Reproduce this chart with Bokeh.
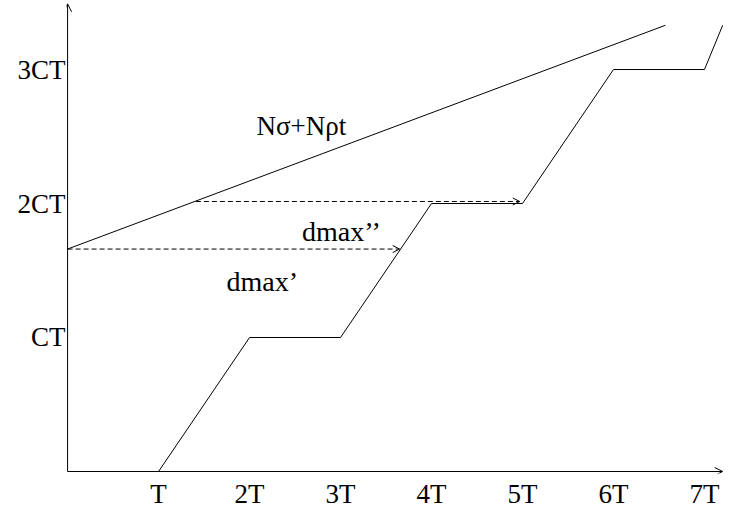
from bokeh.plotting import figure
from bokeh.models import Range1d, FixedTicker, Arrow, OpenHead
from bokeh.core.properties import value
from bokeh.embed import file_html
from bokeh.resources import INLINE

# --- data (in units of T on x, CT on y) ---
x_ticks = [1, 2, 3, 4, 5, 6, 7]
x_tick_labels = ["T", "2T", "3T", "4T", "5T", "6T", "7T"]
y_ticks = [1, 2, 3]
y_tick_labels = ["CT", "2CT", "3CT"]

stair_x = [1, 2, 3, 4, 5, 6, 7, 7.2]
stair_y = [0, 1, 1, 2, 2, 3, 3, 3.33]

env_x = [0, 6.57]
env_y = [1.66, 3.33]

dmax1_x = [0, 3.65]
dmax1_y = [1.66, 1.66]
dmax2_x = [1.41, 4.97]
dmax2_y = [2.015, 2.015]

axis_x = [0, 7.2]
axis_y = [0, 3.49]

label_text = ["Nσ+Nρt", "dmax’", "dmax’’"]
label_x = [2.57, 2.14, 3.01]
label_y = [2.58, 1.42, 1.79]
label_size = ["27px", "28px", "28px"]

FONT = "Liberation Serif"
TICK_FS = "27px"

p = figure(width=724, height=511,
           x_range=Range1d(-0.012, 7.22), y_range=Range1d(-0.015, 3.515),
           output_backend="svg", toolbar_location=None,
           min_border_left=66, min_border_right=0, min_border_top=0, min_border_bottom=38)
p.xgrid.visible = False
p.ygrid.visible = False
p.outline_line_color = None
p.background_fill_color = "white"
p.border_fill_color = "white"

for ax, ticks, labels, standoff in ((p.xaxis, x_ticks, x_tick_labels, 5),
                                    (p.yaxis, y_ticks, y_tick_labels, 1)):
    ax.ticker = FixedTicker(ticks=ticks)
    ax.major_label_overrides = dict(zip(ticks, labels))
    ax.axis_line_color = None
    ax.major_tick_line_color = None
    ax.minor_tick_line_color = None
    ax.major_tick_out = 0
    ax.major_tick_in = 0
    ax.minor_tick_out = 0
    ax.major_label_standoff = standoff
    ax.major_label_text_font = FONT
    ax.major_label_text_font_size = TICK_FS
    ax.major_label_text_color = "black"

# axes with arrow heads
p.add_layout(Arrow(end=OpenHead(size=8, line_width=1, line_color="black"),
                   x_start=axis_x[0], y_start=axis_y[0], x_end=axis_x[1], y_end=axis_y[0],
                   line_width=1, line_color="black"))
p.add_layout(Arrow(end=OpenHead(size=8, line_width=1, line_color="black"),
                   x_start=axis_x[0], y_start=axis_y[0], x_end=axis_x[0], y_end=axis_y[1],
                   line_width=1, line_color="black"))

# envelope and staircase
p.line(env_x, env_y, line_color="black", line_width=1)
p.line(stair_x, stair_y, line_color="black", line_width=1)

# dashed dmax arrows
for xs, ys in ((dmax1_x, dmax1_y), (dmax2_x, dmax2_y)):
    p.add_layout(Arrow(end=OpenHead(size=7, line_width=1, line_color="black"),
                       x_start=xs[0], y_start=ys[0], x_end=xs[1], y_end=ys[1],
                       line_width=1, line_color="black", line_dash="5 3"))

for t, x, y, fs in zip(label_text, label_x, label_y, label_size):
    p.text(x=[x], y=[y], text=[t],
           text_font=value(FONT), text_font_size=fs, text_color="black",
           text_align="center", text_baseline="alphabetic")

open("out.html", "w").write(file_html(p, INLINE))
